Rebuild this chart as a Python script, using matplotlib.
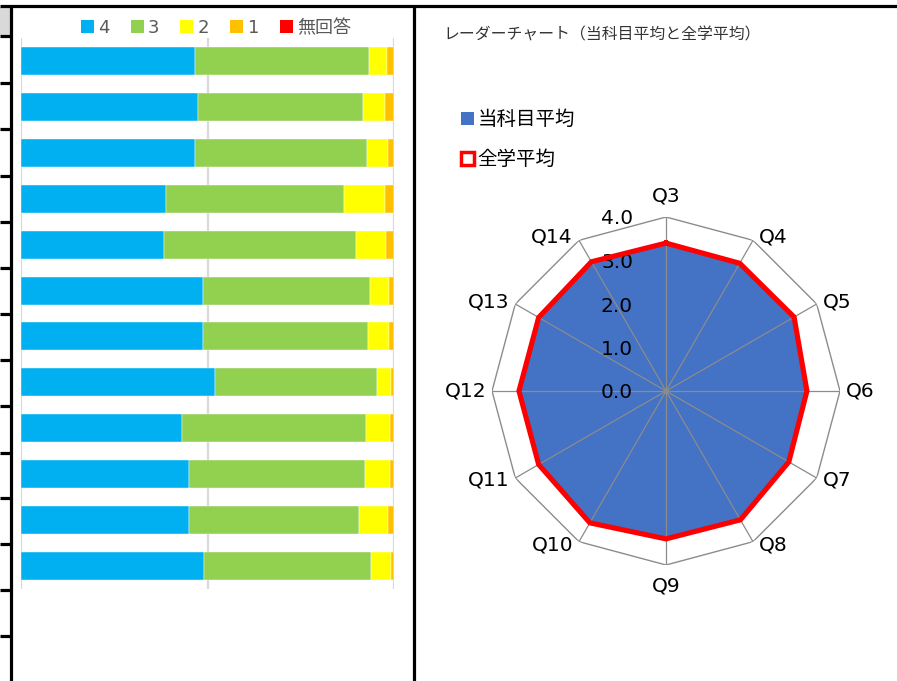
import numpy as np
import matplotlib
matplotlib.use("Agg")
import matplotlib.pyplot as plt
from matplotlib.patches import Patch, Rectangle
from matplotlib.lines import Line2D

plt.rcParams['font.family'] = ['DejaVu Sans', 'Noto Sans CJK JP']
JP = ['Noto Sans CJK JP', 'DejaVu Sans']

# ---- data -------------------------------------------------------------
questions = ["Q3", "Q4", "Q5", "Q6", "Q7", "Q8", "Q9", "Q10", "Q11", "Q12", "Q13", "Q14"]

# answer shares (%) per question, top bar first
share_4 = [46.6, 47.5, 46.6, 38.9, 38.3, 48.7, 48.8, 52.0, 43.2, 45.0, 45.1, 49.1]
share_3 = [46.7, 44.3, 46.2, 47.7, 51.5, 44.9, 44.2, 43.4, 49.3, 47.2, 45.6, 44.7]
share_2 = [4.8, 5.8, 5.5, 11.0, 8.0, 5.1, 5.7, 3.9, 6.4, 6.7, 7.6, 5.3]
share_1 = [1.9, 2.4, 1.7, 2.4, 2.2, 1.3, 1.3, 0.7, 1.1, 1.1, 1.7, 0.9]
share_na = [0.0] * 12
share_labels = ["4", "3", "2", "1", "無回答"]

subject_avg = [3.38, 3.37, 3.38, 3.22, 3.24, 3.40, 3.38, 3.48, 3.36, 3.36, 3.36, 3.41]
campus_avg = [3.40, 3.39, 3.40, 3.24, 3.26, 3.42, 3.40, 3.50, 3.38, 3.38, 3.38, 3.43]
r_ticks = [0.0, 1.0, 2.0, 3.0, 4.0]

W, H = 897, 681
fig = plt.figure(figsize=(W / 100, H / 100), dpi=100)


def fx(px):
    return px / W


def fy(py):
    return 1 - py / H


# ---- left: stacked 100% bars -------------------------------------------
bar_colors = ["#00B0F0", "#92D050", "#FFFF00", "#FFC000", "#FF0000"]
ax = fig.add_axes([fx(21), fy(589), fx(394) - fx(21), fy(38) - fy(589)])
y = np.arange(len(questions))
left = np.zeros(len(questions))
handles = []
for vals, col, lab in zip([share_4, share_3, share_2, share_1, share_na], bar_colors, share_labels):
    v = np.array(vals) / 100.0
    ax.barh(y, v, left=left, height=0.61, color=col, edgecolor="white", linewidth=0.3, zorder=3)
    left += v
    handles.append(Patch(facecolor=col, edgecolor="none", label=lab))
ax.set_xlim(0, 1)
ax.set_ylim(len(questions) - 0.5, -0.5)
for gx in [0, 0.5, 1]:
    ax.axvline(gx, color="#d9d9d9", lw=1.6, zorder=1)
for s in ax.spines.values():
    s.set_visible(False)
ax.set_xticks([]); ax.set_yticks([])

leg = fig.legend(handles=handles, loc="center", bbox_to_anchor=(fx(216), fy(28)), ncol=5,
                 frameon=False, handlelength=0.72, handleheight=0.72, handletextpad=0.25,
                 columnspacing=1.15, borderaxespad=0,
                 prop={'family': ['DejaVu Sans', 'Noto Sans CJK JP'], 'size': 13})
for t in leg.get_texts():
    t.set_color("#595959")

# ---- right: radar ------------------------------------------------------
cx, cy, R = 666, 391, 174
rax = fig.add_axes([fx(cx - R), fy(cy + R), 2 * R / W, 2 * R / H], projection="polar")
rax.set_theta_zero_location("N")
rax.set_theta_direction(-1)
rax.set_ylim(0, 4)
rax.grid(False)
rax.set_xticks([]); rax.set_yticks([])
rax.spines["polar"].set_visible(False)
rax.patch.set_alpha(0)

theta = np.arange(len(questions)) * 2 * np.pi / len(questions)
tc = np.append(theta, theta[0])
grey = "#8c8c8c"
rax.plot(tc, [4.0] * len(tc), color=grey, lw=1.0, zorder=1)
rax.fill(tc, np.append(subject_avg, subject_avg[0]), color="#4472C4", lw=0, zorder=2)
for t in theta:
    rax.plot([t, t], [0, 4.0], color=grey, lw=0.9, zorder=3)
rax.plot(tc, np.append(campus_avg, campus_avg[0]), color="#FF0000", lw=3.7,
         solid_joinstyle="miter", zorder=4)
rax.plot([0], [0], "o", color=grey, ms=3, zorder=5)

for t, q in zip(theta, questions):
    s, c = np.sin(t), np.cos(t)
    if abs(s) < 0.1:
        ha, dx, dy = "center", 0, 21 * np.sign(c)
    else:
        ha = "left" if s > 0 else "right"
        dx, dy = 6 * np.sign(s), 4 * c
    rax.annotate(q, xy=(t, 4.0), xytext=(dx, dy), textcoords="offset pixels",
                 ha=ha, va="center", fontsize=14.5, annotation_clip=False)

for v in r_ticks:
    rax.annotate(f"{v:.1f}", xy=(0, v), xytext=(-33, -2), textcoords="offset pixels",
                 ha="right", va="center", fontsize=14.5, annotation_clip=False)

fig.text(fx(443), fy(35), "レーダーチャート（当科目平均と全学平均）", family=JP,
         fontsize=11.4, color="#333333", ha="left", va="center")

rh = [Patch(facecolor="#4472C4", edgecolor="none", label="当科目平均"),
      Patch(facecolor="white", edgecolor="#FF0000", linewidth=2.5, label="全学平均")]
rleg = fig.legend(handles=rh, loc="upper left", bbox_to_anchor=(fx(461), fy(109)),
                  frameon=False, handlelength=0.65, handleheight=0.65, handletextpad=0.2,
                  labelspacing=1.0, borderaxespad=0, borderpad=0,
                  prop={'family': JP, 'size': 14})

# ---- table borders around the charts -----------------------------------
blk = dict(color="black", lw=2.3, transform=fig.transFigure, solid_capstyle="butt")
fig.add_artist(Line2D([0, 1], [fy(6), fy(6)], **blk))
fig.add_artist(Line2D([fx(10.8), fx(10.8)], [fy(6), 0], **blk))
fig.add_artist(Line2D([fx(414), fx(414)], [fy(6), 0], **blk))
fig.add_artist(Rectangle((0, fy(36)), fx(9.5), fy(7) - fy(36), transform=fig.transFigure,
                         facecolor="#d9d9d9", edgecolor="none"))
for ry in [36, 82.5, 129, 176, 221.5, 268, 314, 360, 406, 452.5, 498, 544, 590, 636]:
    fig.add_artist(Line2D([0, fx(10.8)], [fy(ry), fy(ry)], **blk))

fig.savefig("out.png", dpi=100)
